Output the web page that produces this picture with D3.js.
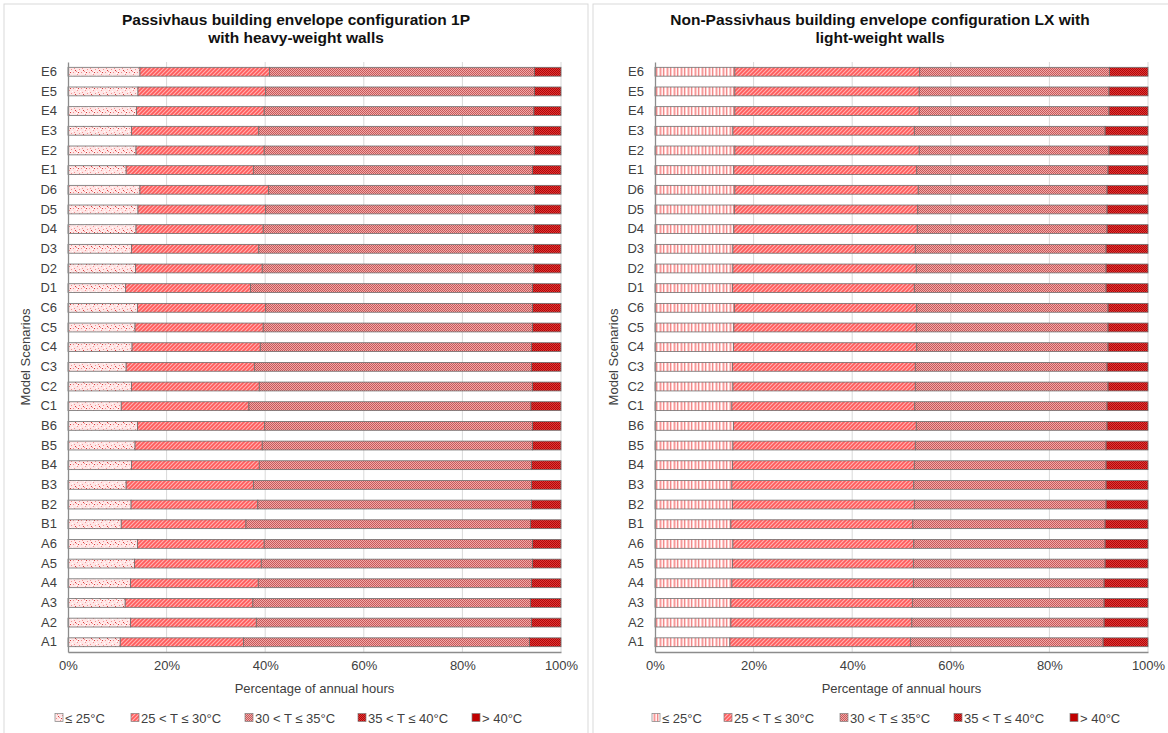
<!DOCTYPE html>
<html>
<head>
<meta charset="utf-8">
<script src="https://cdn.jsdelivr.net/npm/d3@7"></script>
<style>
  body { margin: 0; background: #fff; }
  text { font-family: "Liberation Sans", Arial, sans-serif; }
</style>
</head>
<body>
<svg id="chart" width="1168" height="733"></svg>
<script>
var scenarios = ['A1','A2','A3','A4','A5','A6','B1','B2','B3','B4','B5','B6',
  'C1','C2','C3','C4','C5','C6','D1','D2','D3','D4','D5','D6','E1','E2','E3','E4','E5','E6']

var bands = ['≤ 25°C', '25 < T ≤ 30°C', '30 < T ≤ 35°C', '35 < T ≤ 40°C', '> 40°C']
var xTicks = [0, 20, 40, 60, 80, 100]

// Passivhaus 1P, heavy-weight walls (% of annual hours, A1..E6)
var pLe25   = [10.6,12.7,11.6,12.7,13.5,14.1, 10.8,12.8,11.8,12.9,13.6,14.1, 10.8,12.9,11.8,13.0,13.6,14.1, 11.7,13.7,12.9,13.8,14.2,14.6, 11.8,13.8,12.9,13.9,14.2,14.6]
var p25to30 = [25.0,25.5,25.9,25.9,25.7,25.7, 25.3,25.7,25.8,25.9,25.8,25.8, 25.9,25.9,26.0,26.0,26.0,26.0, 25.3,25.7,25.8,25.8,25.9,26.1, 25.8,26.0,25.8,25.9,25.9,26.3]
var p30to35 = [58.0,55.8,56.3,55.4,55.0,54.4, 57.7,55.5,56.4,55.2,54.8,54.3, 57.2,55.4,56.2,55.0,54.6,54.1, 57.2,55.1,55.7,54.9,54.5,53.9, 56.6,54.8,55.8,54.7,54.5,53.7]
var p35to40 = [6.4,6.0,6.2,6.0,5.8,5.8, 6.2,6.0,6.0,6.0,5.8,5.8, 6.1,5.8,6.0,6.0,5.8,5.8, 5.8,5.5,5.6,5.5,5.4,5.4, 5.8,5.4,5.5,5.5,5.4,5.4]
var pGt40   = [0,0,0,0,0,0, 0,0,0,0,0,0, 0,0,0,0,0,0, 0,0,0,0,0,0, 0,0,0,0,0,0]

// Non-Passivhaus LX, light-weight walls
var nLe25   = [15.2,15.4,15.4,15.6,15.7,15.8, 15.4,15.7,15.6,15.7,15.8,15.9, 15.6,15.8,15.7,15.9,16.0,16.1, 15.7,15.8,15.8,16.0,16.1,16.2, 16.0,16.2,15.8,16.2,16.2,16.2]
var n25to30 = [36.6,36.7,36.8,36.8,36.7,36.7, 36.9,36.9,36.9,36.9,37.0,37.1, 37.1,37.0,37.1,37.2,37.0,37.0, 36.9,37.2,37.0,37.2,37.2,37.2, 37.1,37.4,36.8,37.4,37.4,37.5]
var n30to35 = [39.1,39.0,38.9,38.7,38.9,38.8, 39.0,38.9,39.0,38.9,38.7,38.7, 39.0,39.1,38.9,38.8,38.9,38.8, 38.9,38.5,38.7,38.5,38.4,38.3, 38.8,38.5,38.7,38.5,38.5,38.5]
var n35to40 = [9.1,8.9,8.9,8.9,8.7,8.7, 8.7,8.5,8.5,8.5,8.5,8.3, 8.3,8.1,8.3,8.1,8.1,8.1, 8.5,8.5,8.5,8.3,8.3,8.3, 8.1,7.9,8.7,7.9,7.9,7.8]
var nGt40   = [0,0,0,0,0,0, 0,0,0,0,0,0, 0,0,0,0,0,0, 0,0,0,0,0,0, 0,0,0,0,0,0]

var svg = d3.select('#chart')
var defs = svg.append('defs')

// fill patterns, roughly like the office-chart hatches
function pat(id, w, h, bg, draw){
  var p = defs.append('pattern').attr('id', id)
    .attr('patternUnits', 'userSpaceOnUse').attr('width', w).attr('height', h)
  p.append('rect').attr('width', w).attr('height', h).attr('fill', bg)
  draw(p)
}
function dots(p, pts, col){
  pts.forEach(d => p.append('rect').attr('x', d[0]).attr('y', d[1]).attr('width', 1).attr('height', 1).attr('fill', col))
}

pat('dotty', 8, 8, '#ffe6e6', p => {
  dots(p, [[1,0],[5,2],[2,4],[7,5],[4,7]], '#f29090')
  dots(p, [[6,0],[3,6]], '#d83838')
  dots(p, [[0,3],[4,1],[6,7]], '#ffffff')
})
pat('vstripe', 7, 4, '#ffcccc', p => {
  p.append('rect').attr('x', 0).attr('width', 1).attr('height', 4).attr('fill', '#ffffff')
  p.append('rect').attr('x', 2).attr('width', 1).attr('height', 4).attr('fill', '#f59a9a')
  p.append('rect').attr('x', 4).attr('width', 1).attr('height', 4).attr('fill', '#fff0f0')
  p.append('rect').attr('x', 5).attr('width', 1).attr('height', 4).attr('fill', '#ef8a8a')
})
pat('diag', 4, 4, '#ff5c5c', p => {
  p.append('path').attr('d', 'M-1,1 L1,-1 M0,4 L4,0 M3,5 L5,3')
    .attr('stroke', '#ffb3b3').attr('stroke-width', 1.1)
})
pat('check', 2, 2, '#f2a8a8', p => {
  dots(p, [[0,0],[1,1]], '#c65a5a')
})
pat('darkcheck', 2, 2, '#e43434', p => {
  dots(p, [[0,0],[1,1]], '#ac0a0a')
})

var fillsLeft  = ['url(#dotty)', 'url(#diag)', 'url(#check)', 'url(#darkcheck)', '#c00000']
var fillsRight = ['url(#vstripe)', 'url(#diag)', 'url(#check)', 'url(#darkcheck)', '#c00000']

function drawPanel(cfg){
  var g = svg.append('g')

  g.append('rect')
    .attr('x', cfg.boxX).attr('y', 4)
    .attr('width', cfg.boxW).attr('height', 740)
    .attr('fill', '#fff').attr('stroke', '#d9d9d9')

  var rows = scenarios.map((s, i) => {
    var r = {name: s}
    cfg.series.forEach((arr, j) => r[bands[j]] = arr[i])
    return r
  })

  var x = d3.scaleLinear().domain([0, 100]).range([cfg.left, cfg.right])
  var y = d3.scaleBand().domain(scenarios.slice().reverse())
    .range([62, 652]).paddingInner(0.55).paddingOuter(0.27)

  // gridlines
  g.selectAll('line.grid').data(xTicks.slice(1)).join('line')
    .attr('x1', d => x(d)).attr('x2', d => x(d))
    .attr('y1', 62).attr('y2', 652)
    .attr('stroke', '#d9d9d9').attr('stroke-width', 1)

  var stack = d3.stack().keys(bands)(rows)

  g.selectAll('g.layer').data(stack).join('g')
    .attr('fill', (d, i) => cfg.fills[i])
    .selectAll('rect').data(d => d.filter(e => e[1] - e[0] > 0)).join('rect')
    .attr('x', d => x(d[0]))
    .attr('width', d => x(d[1]) - x(d[0]))
    .attr('y', d => y(d.data.name))
    .attr('height', y.bandwidth())
    .attr('stroke', '#6f6f6f').attr('stroke-width', 0.8)

  // axes
  var xAxis = g.append('g').attr('transform', 'translate(0,652)')
    .call(d3.axisBottom(x).tickValues(xTicks).tickFormat(d => d + '%').tickSize(0).tickPadding(9))
  xAxis.select('.domain').attr('stroke', '#8c8c8c').attr('stroke-width', 1.3)
  xAxis.selectAll('text').attr('font-size', 13).attr('fill', '#404040')
    .attr('font-family', '"Liberation Sans", Arial, sans-serif')

  var yAxis = g.append('g').attr('transform', 'translate(' + cfg.left + ',0)')
    .call(d3.axisLeft(y).tickSize(0).tickPadding(11))
  yAxis.select('.domain').attr('stroke', '#8c8c8c').attr('stroke-width', 1.3)
  yAxis.selectAll('text').attr('font-size', 13).attr('fill', '#404040')
    .attr('font-family', '"Liberation Sans", Arial, sans-serif')

  // titles
  g.selectAll('text.title').data(cfg.title).join('text')
    .attr('x', cfg.titleX).attr('y', (d, i) => 25 + i * 18)
    .attr('text-anchor', 'middle').attr('font-size', 15.5).attr('font-weight', 'bold')
    .attr('fill', '#111').text(d => d)

  g.append('text')
    .attr('transform', 'translate(' + cfg.yTitleX + ',357) rotate(-90)')
    .attr('text-anchor', 'middle').attr('font-size', 13).attr('fill', '#404040')
    .text('Model Scenarios')

  g.append('text')
    .attr('x', (cfg.left + cfg.right) / 2).attr('y', 693)
    .attr('text-anchor', 'middle').attr('font-size', 13).attr('fill', '#404040')
    .text('Percentage of annual hours')

  // legend
  var leg = g.append('g').attr('transform', 'translate(0,718)')
  var items = leg.selectAll('g').data(bands).join('g')
  items.append('rect')
    .attr('y', -4.5).attr('width', 8).attr('height', 8)
    .attr('fill', (d, i) => cfg.fills[i]).attr('stroke', '#7f7f7f').attr('stroke-width', 0.7)
  items.append('text')
    .attr('x', 10).attr('y', 5).attr('font-size', 13).attr('fill', '#404040')
    .text(d => d)
  var pos = cfg.legendX
  items.attr('transform', (d, i) => 'translate(' + pos[i] + ',0)')
}

drawPanel({
  boxX: 4, boxW: 584, left: 68, right: 561, titleX: 296, yTitleX: 30,
  title: ['Passivhaus building envelope configuration 1P', 'with heavy-weight walls'],
  series: [pLe25, p25to30, p30to35, p35to40, pGt40],
  fills: fillsLeft,
  legendX: [55, 131, 245, 358, 472]
})

drawPanel({
  boxX: 593, boxW: 590, left: 655, right: 1148, titleX: 880, yTitleX: 618,
  title: ['Non-Passivhaus building envelope configuration LX with', 'light-weight walls'],
  series: [nLe25, n25to30, n30to35, n35to40, nGt40],
  fills: fillsRight,
  legendX: [652, 724, 840, 954, 1070]
})
</script>
</body>
</html>
